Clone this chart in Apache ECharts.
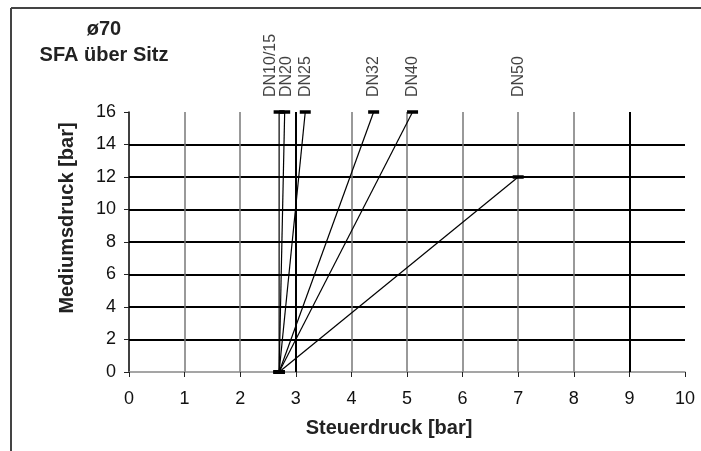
<!DOCTYPE html>
<html><head><meta charset="utf-8">
<script src="https://cdn.jsdelivr.net/npm/echarts@6/dist/echarts.min.js"></script>
<style>html,body{margin:0;padding:0;background:#fff}#c{width:701px;height:451px}</style>
</head><body><div id="c"></div>
<script>
const names = ['DN10/15', 'DN20', 'DN25', 'DN32', 'DN40', 'DN50'];
const startX = [2.7, 2.7, 2.7, 2.7, 2.7, 2.7];
const startY = [0, 0, 0, 0, 0, 0];
const endX = [2.7, 2.8, 3.17, 4.4, 5.1, 7.0];
const endY = [16, 16, 16, 16, 16, 12];
const xTicks = [0, 1, 2, 3, 4, 5, 6, 7, 8, 9, 10];
const yTicks = [0, 2, 4, 6, 8, 10, 12, 14, 16];

const FONT = 'Liberation Sans, Arial, sans-serif';
const labelShift = [-9, 2, 0, 0, 0, 0];

const chart = echarts.init(document.getElementById('c'), null, {renderer: 'canvas'});
const series = [];
names.forEach((n, i) => {
  series.push({
    type: 'line', name: n, animation: false, silent: true,
    data: [[startX[i], startY[i]], [endX[i], endY[i]]],
    lineStyle: {color: '#000', width: 1.2},
    symbol: 'rect', symbolSize: [11, 3.5], showSymbol: true,
    itemStyle: {color: '#000'}, z: 5
  });
});
// labels above the top edge
series.push({
  type: 'scatter', animation: false, silent: true,
  data: names.map((n, i) => ({value: [endX[i], yTicks[yTicks.length - 1]], name: n,
    label: {offset: [0, labelShift[i]]}})),
  symbolSize: 0,
  label: {show: true, formatter: p => p.name, position: 'top', distance: 15,
    rotate: 90, align: 'left', verticalAlign: 'middle',
    fontFamily: FONT, fontSize: 16, color: '#111'},
  z: 6
});
// darker grid lines at 3 and 9
series.push({
  type: 'line', data: [], animation: false, silent: true,
  markLine: {symbol: 'none', silent: true, label: {show: false},
    lineStyle: {color: '#000', width: 2, type: 'solid'},
    data: [[{coord: [3, 0]}, {coord: [3, 16]}], [{coord: [9, 0]}, {coord: [9, 16]}]]},
  z: 2
});

chart.setOption({
  animation: false,
  backgroundColor: '#fff',
  grid: {left: 129, right: 16, top: 112, bottom: 79},
  xAxis: {
    type: 'value', min: 0, max: 10, interval: 1,
    name: 'Steuerdruck [bar]', nameLocation: 'middle', nameGap: 46,
    nameTextStyle: {fontFamily: FONT, fontSize: 20, fontWeight: 'bold', color: '#222', padding: [0, 36, 0, 0]},
    axisLine: {show: true, onZero: false, lineStyle: {color: '#888', width: 1.5}},
    axisTick: {show: true, length: 5, lineStyle: {color: '#222', width: 1}},
    axisLabel: {fontFamily: FONT, fontSize: 18, color: '#111', margin: 18},
    splitLine: {show: true, showMinLine: false, showMaxLine: false, lineStyle: {color: '#777', width: 1.5}}
  },
  yAxis: {
    type: 'value', min: 0, max: 16, interval: 2,
    name: 'Mediumsdruck [bar]', nameLocation: 'middle', nameGap: 52,
    nameTextStyle: {fontFamily: FONT, fontSize: 20, fontWeight: 'bold', color: '#222', padding: [0, 0, 0, 48]},
    axisLine: {show: true, onZero: false, lineStyle: {color: '#000', width: 1.5}},
    axisTick: {show: true, length: 5, lineStyle: {color: '#222', width: 1}},
    axisLabel: {fontFamily: FONT, fontSize: 18, color: '#111', margin: 13},
    splitLine: {show: true, showMinLine: false, showMaxLine: false, lineStyle: {color: '#000', width: 2}}
  },
  graphic: [
    {type: 'line', shape: {x1: 11, y1: 8, x2: 701, y2: 8}, style: {stroke: '#444', lineWidth: 2}},
    {type: 'line', shape: {x1: 11, y1: 8, x2: 11, y2: 451}, style: {stroke: '#444', lineWidth: 2}},
    {type: 'text', x: 104, y: 29, style: {text: 'ø70', fontFamily: FONT, fontSize: 20, fontWeight: 'bold', fill: '#222', align: 'center', verticalAlign: 'middle'}},
    {type: 'text', x: 104, y: 55, style: {text: 'SFA über Sitz', fontFamily: FONT, fontSize: 20, fontWeight: 'bold', fill: '#222', align: 'center', verticalAlign: 'middle'}}
  ],
  series: series
});
</script></body></html>
